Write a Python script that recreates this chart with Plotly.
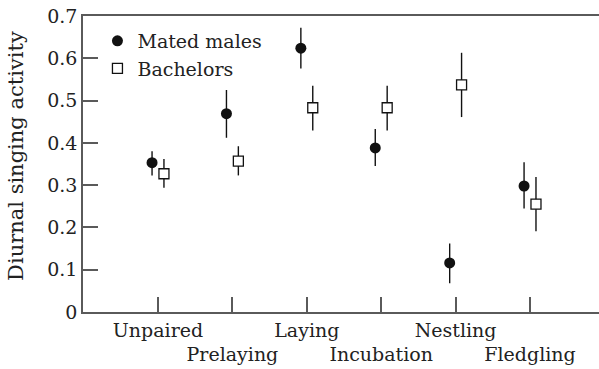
import plotly.graph_objects as go

# Breeding stages (x categories) and per-group means with error-bar limits
stages = ["Unpaired", "Prelaying", "Laying", "Incubation", "Nestling", "Fledgling"]

mated_mean = [0.353, 0.469, 0.624, 0.388, 0.116, 0.298]
mated_upper = [0.380, 0.525, 0.672, 0.433, 0.162, 0.354]
mated_lower = [0.323, 0.412, 0.576, 0.345, 0.068, 0.245]

bach_mean = [0.327, 0.357, 0.483, 0.483, 0.537, 0.255]
bach_upper = [0.362, 0.392, 0.535, 0.535, 0.613, 0.319]
bach_lower = [0.294, 0.323, 0.429, 0.429, 0.461, 0.191]

y_ticks = [0, 0.1, 0.2, 0.3, 0.4, 0.5, 0.6, 0.7]
y_tick_text = ["0", "0.1", "0.2", "0.3", "0.4", "0.5", "0.6", "0.7"]

FONT = "DejaVu Serif"
AXIS_COLOR = "#5a5a5a"
OFFSET = 0.08  # horizontal dodge of the two groups around each stage

pos = list(range(len(stages)))
# alternate stage labels between two rows so they do not collide
tick_text = [s if i % 2 == 0 else " <br>" + s for i, s in enumerate(stages)]

fig = go.Figure()

fig.add_trace(go.Scatter(
    x=[p - OFFSET for p in pos], y=mated_mean, mode="markers", name="Mated males",
    marker=dict(symbol="circle", size=11, color="#111111", line=dict(width=0)),
    error_y=dict(type="data", symmetric=False,
                 array=[u - m for u, m in zip(mated_upper, mated_mean)],
                 arrayminus=[m - l for m, l in zip(mated_mean, mated_lower)],
                 width=0, thickness=1.4, color="#111111"),
))

fig.add_trace(go.Scatter(
    x=[p + OFFSET for p in pos], y=bach_mean, mode="markers", name="Bachelors",
    marker=dict(symbol="square", size=10, color="white", line=dict(width=1.3, color="#111111")),
    error_y=dict(type="data", symmetric=False,
                 array=[u - m for u, m in zip(bach_upper, bach_mean)],
                 arrayminus=[m - l for m, l in zip(bach_mean, bach_lower)],
                 width=0, thickness=1.4, color="#111111"),
))

fig.add_annotation(
    text="Diurnal singing activity", textangle=-90, showarrow=False,
    xref="paper", yref="paper", x=-0.13, y=0.527, xanchor="center", yanchor="middle",
    font=dict(family=FONT, size=21, color="#222222"),
)

fig.update_layout(
    width=599, height=369,
    margin=dict(l=83, r=0, t=16, b=57),
    paper_bgcolor="white", plot_bgcolor="white",
    font=dict(family=FONT, size=19, color="#222222"),
    showlegend=True,
    legend=dict(x=0.028, y=0.98, xanchor="left", yanchor="top",
                bgcolor="rgba(0,0,0,0)", itemwidth=30, tracegroupgap=0,
                font=dict(family=FONT, size=19, color="#222222")),
    xaxis=dict(
        range=[-1.008, 5.927], tickmode="array", tickvals=pos, ticktext=tick_text,
        tickangle=0,
        showgrid=False, zeroline=False, showline=True, mirror=True,
        linecolor=AXIS_COLOR, linewidth=1.5,
        ticks="inside", ticklen=15, tickwidth=1.5, tickcolor=AXIS_COLOR,
    ),
    yaxis=dict(
        range=[0, 0.7], tickmode="array", tickvals=y_ticks, ticktext=y_tick_text,
        showgrid=False, zeroline=False, showline=True,
        linecolor=AXIS_COLOR, linewidth=1.5,
        ticks="inside", ticklen=15, tickwidth=1.5, tickcolor=AXIS_COLOR,
    ),
)

fig.write_html("out.html")
